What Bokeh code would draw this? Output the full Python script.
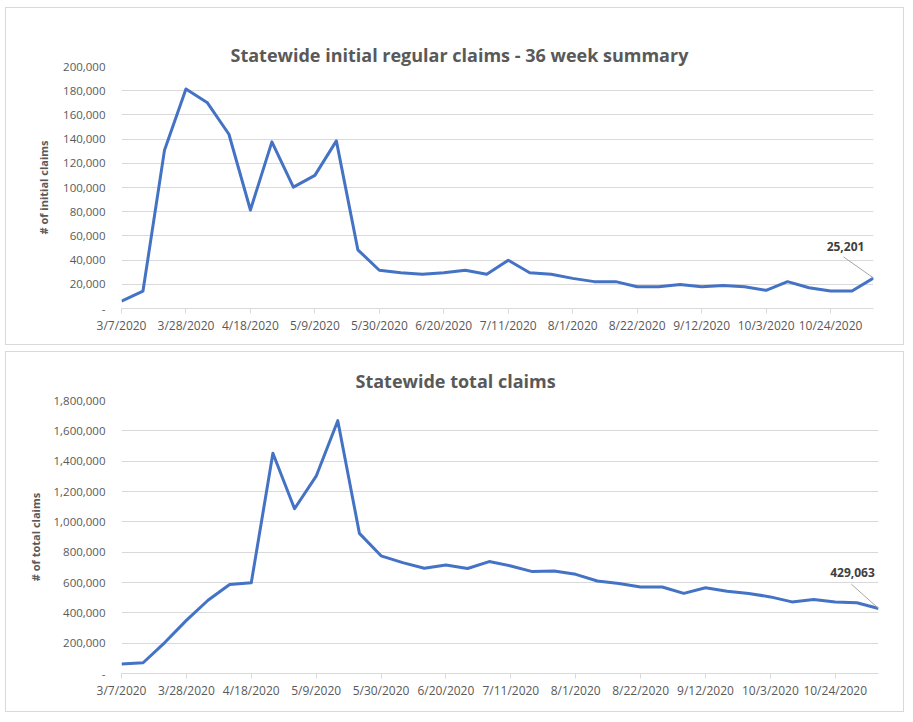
from bokeh.plotting import figure
from bokeh.layouts import column
from bokeh.models import (Range1d, FixedTicker, NumeralTickFormatter, Label, Title,
                          LinearAxis)
from bokeh.embed import file_html
from bokeh.resources import INLINE

weeks = ["3/7/2020", "3/14/2020", "3/21/2020", "3/28/2020", "4/4/2020", "4/11/2020",
         "4/18/2020", "4/25/2020", "5/2/2020", "5/9/2020", "5/16/2020", "5/23/2020",
         "5/30/2020", "6/6/2020", "6/13/2020", "6/20/2020", "6/27/2020", "7/4/2020",
         "7/11/2020", "7/18/2020", "7/25/2020", "8/1/2020", "8/8/2020", "8/15/2020",
         "8/22/2020", "8/29/2020", "9/5/2020", "9/12/2020", "9/19/2020", "9/26/2020",
         "10/3/2020", "10/10/2020", "10/17/2020", "10/24/2020", "10/31/2020", "11/7/2020"]

initial_claims = [6100, 14400, 130700, 181400, 170000, 144000, 81400, 137700, 100300,
                  110000, 138500, 48500, 31600, 29600, 28300, 29600, 31600, 28300,
                  39900, 29600, 28300, 24900, 22200, 22200, 18000, 18000, 19900,
                  18000, 19100, 18000, 15000, 22200, 17200, 14400, 14400, 25201]

total_claims = [62000, 71000, 204000, 350000, 483000, 587000, 598000, 1452000, 1086000,
                1301000, 1667000, 924000, 776000, 731000, 694000, 716000, 692000, 738000,
                709000, 672000, 676000, 654000, 610000, 594000, 570000, 570000, 528000,
                565000, 543000, 528000, 505000, 472000, 488000, 472000, 466000, 429063]

tick_weeks = list(range(0, 36, 3))

TEXT = "#595959"
GRID = "#d9d9d9"
BLUE = "#4472C4"
FONT = "Open Sans"


def make_chart(values, title, ylabel, ymax, ystep, frame, borders,
               title_offset, title_standoff, spacer, label_off, leader_off, ylabel_standoff):
    fw, fh = frame
    left, right, top, bottom = borders
    x = list(range(len(values)))
    p = figure(frame_width=fw, frame_height=fh, output_backend="svg", toolbar_location=None,
               x_range=Range1d(0, len(values) - 1), y_range=Range1d(0, ymax),
               min_border_left=left, min_border_right=right,
               min_border_top=top, min_border_bottom=bottom)
    p.outline_line_color = None
    p.background_fill_color = "white"
    p.border_fill_color = "white"
    p.styles = {"border": "1px solid #d9d9d9"}

    p.title = Title(text=title, text_font=FONT, text_font_size="18px",
                    text_font_style="bold", text_color=TEXT, align="left",
                    offset=title_offset, standoff=title_standoff)

    p.line(x, values, line_color=BLUE, line_width=3, line_join="round")

    # bottom (category) axis
    xa = p.below[0]
    xa.ticker = FixedTicker(ticks=tick_weeks)
    xa.major_label_overrides = {i: weeks[i] for i in tick_weeks}
    xa.axis_line_color = GRID
    xa.major_tick_line_color = GRID
    xa.major_tick_out = 5
    xa.major_tick_in = 0
    xa.minor_tick_line_color = None
    xa.major_label_standoff = 3
    xa.major_label_text_font = FONT
    xa.major_label_text_font_size = "12px"
    xa.major_label_text_color = TEXT

    # value axis
    ya = p.left[0]
    ya.ticker = FixedTicker(ticks=list(range(0, ymax + 1, ystep)))
    ya.formatter = NumeralTickFormatter(format="0,0")
    ya.major_label_overrides = {0: "-"}
    ya.axis_line_color = None
    ya.major_tick_line_color = None
    ya.minor_tick_line_color = None
    ya.major_label_standoff = 10
    ya.major_label_text_font = FONT
    ya.major_label_text_font_size = "11.5px"
    ya.major_label_text_color = TEXT
    ya.axis_label = ylabel
    ya.axis_label_text_font = FONT
    ya.axis_label_text_font_size = "11px"
    ya.axis_label_text_font_style = "bold"
    ya.axis_label_text_color = TEXT
    ya.axis_label_standoff = ylabel_standoff

    p.xgrid.grid_line_color = None
    p.ygrid.grid_line_color = GRID

    if spacer:
        # empty, invisible axis used only as a gap between title and plotting area
        gap = LinearAxis(ticker=FixedTicker(ticks=[]), axis_line_color=None,
                         major_tick_line_color=None, minor_tick_line_color=None,
                         major_tick_out=spacer, major_tick_in=0, minor_tick_out=0,
                         minor_tick_in=0, major_label_standoff=0)
        p.add_layout(gap, "above")

    # data label for last point with leader line
    px_x = fw / (len(values) - 1)
    px_y = fh / ymax
    lx, ly = x[-1], values[-1]
    p.segment(x0=[lx + leader_off[0] / px_x], y0=[ly + leader_off[1] / px_y],
              x1=[lx], y1=[ly], line_color="#a6a6a6", line_width=1)
    p.add_layout(Label(x=lx, y=ly, x_offset=label_off[0], y_offset=label_off[1],
                       text=f"{ly:,}", text_font=FONT, text_font_size="12px",
                       text_font_style="bold", text_color="#404040",
                       text_align="center", text_baseline="middle"))
    return p


p1 = make_chart(initial_claims, "Statewide initial regular claims - 36 week summary",
                "# of initial claims", 200000, 20000, (750, 240),
                (114, 33, 58, 38), 109, 0, 23, (-28, 32), (-30, 21), 9)
p2 = make_chart(total_claims, "Statewide total claims",
                "# of total claims", 1800000, 200000, (755, 271),
                (115, 27, 48, 40), 234, 15, 0, (-26, 36), (-27, 24), 8)

layout = column(p1, p2, spacing=6, margin=(7, 0, 0, 5))
open("out.html", "w").write(file_html(layout, INLINE))
